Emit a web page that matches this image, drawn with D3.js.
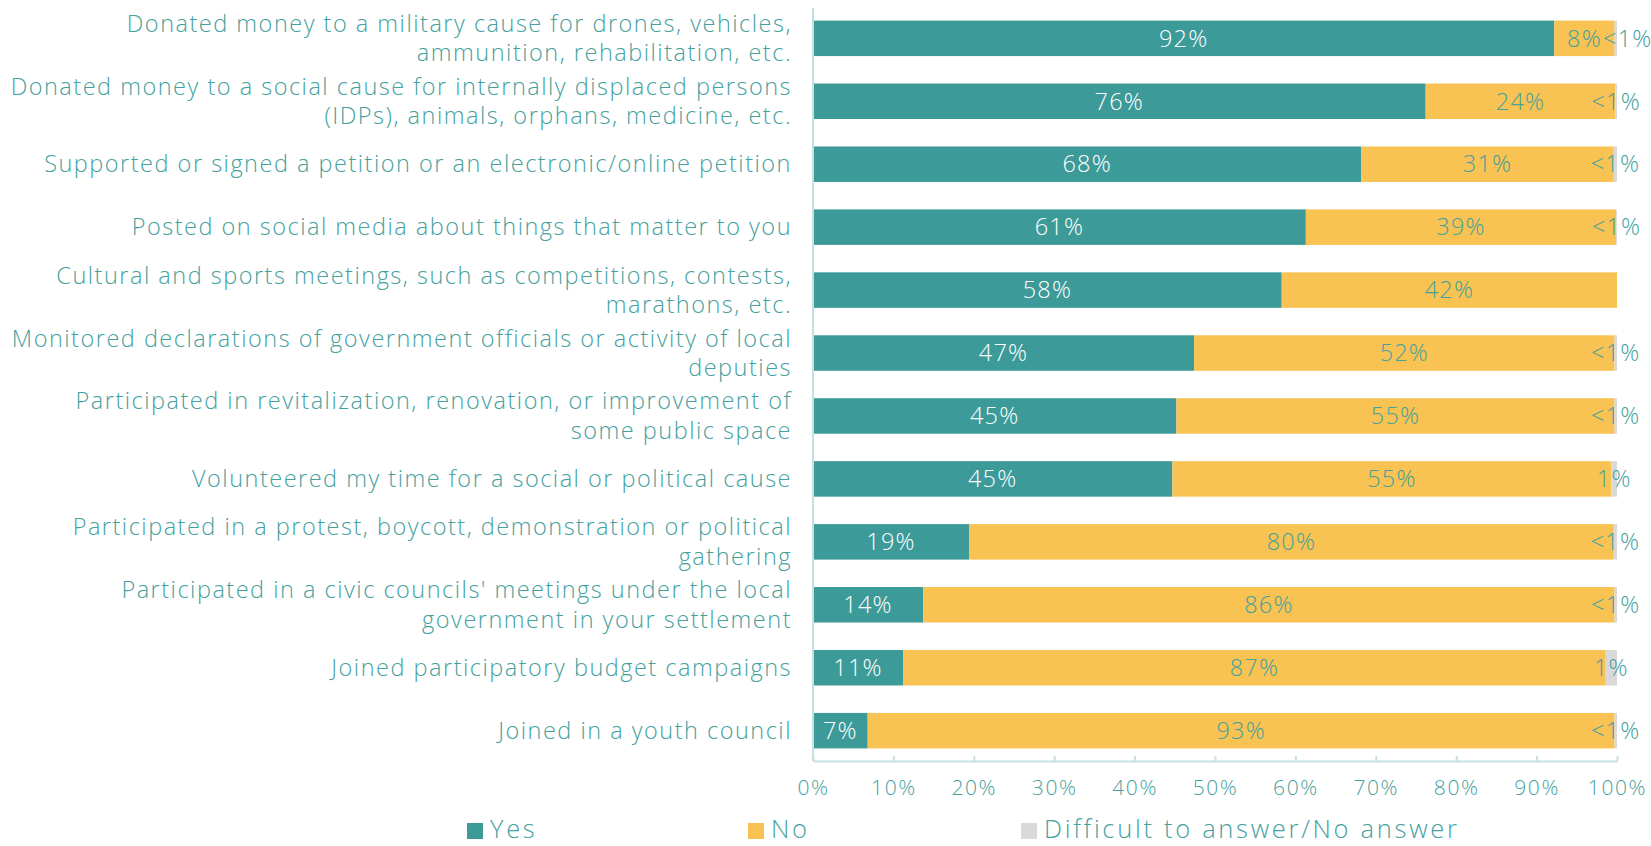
<!DOCTYPE html>
<html>
<head>
<meta charset="utf-8">
<script src="https://cdn.jsdelivr.net/npm/d3@7"></script>
<style>
  html, body { margin: 0; padding: 0; background: #ffffff; }
  svg { display: block; }
  text { font-family: "Open Sans", "Noto Sans", sans-serif; font-weight: 300; }
</style>
</head>
<body>
<svg id="chart" width="1651" height="846"></svg>
<script>
// Activities (one bar each), with wrapped label lines
const categories = [
  ["Donated money to a military cause for drones, vehicles,", "ammunition, rehabilitation, etc."],
  ["Donated money to a social cause for internally displaced persons", "(IDPs), animals, orphans, medicine, etc."],
  ["Supported or signed a petition or an electronic/online petition"],
  ["Posted on social media about things that matter to you"],
  ["Cultural and sports meetings, such as competitions, contests,", "marathons, etc."],
  ["Monitored declarations of government officials or activity of local", "deputies"],
  ["Participated in revitalization, renovation, or improvement of", "some public space"],
  ["Volunteered my time for a social or political cause"],
  ["Participated in a protest, boycott, demonstration or political", "gathering"],
  ["Participated in a civic councils' meetings under the local", "government in your settlement"],
  ["Joined participatory budget campaigns"],
  ["Joined in a youth council"]
];

// Shares of respondents, %
const yesValues  = [92.2, 76.2, 68.2, 61.3, 58.3, 47.4, 45.2, 44.7, 19.4, 13.7, 11.2, 6.8];
const noValues   = [ 7.5, 23.6, 31.4, 38.6, 41.7, 52.3, 54.5, 54.6, 80.2, 86.0, 87.4, 92.9];
const hardValues = [ 0.3,  0.2,  0.4,  0.1,  0.0,  0.3,  0.3,  0.7,  0.4,  0.3,  1.4,  0.3];

const seriesNames = ["Yes", "No", "Difficult to answer/No answer"];
const tickValues = [0, 10, 20, 30, 40, 50, 60, 70, 80, 90, 100];

const colors = { yes: "#3c9a98", no: "#f8c352", hard: "#d9d9d9" };
const textColor = "#45a19e";
const axisColor = "#c6e0e0";

const svg = d3.select("#chart");

const plot = { left: 813, right: 1617, top: 8, bottom: 761 };

const x = d3.scaleLinear().domain([0, 100]).range([plot.left, plot.right]);
const y = d3.scaleBand()
  .domain(d3.range(categories.length))
  .range([plot.top, plot.bottom])
  .paddingInner(0.436)
  .paddingOuter(0.2);

const rows = categories.map((c, i) => ({
  i, lines: c, yes: yesValues[i], no: noValues[i], hard: hardValues[i]
}));

const fmt = v => v < 0.5 ? "<1%" : Math.round(v) + "%";

// Category labels
const labelG = svg.append("g");
rows.forEach(r => {
  const cy = y(r.i) + y.bandwidth() / 2;
  const n = r.lines.length;
  const lh = 29.5;
  const t = labelG.append("text")
    .attr("text-anchor", "end")
    .attr("fill", textColor)
    .attr("font-size", 23.5)
    .attr("letter-spacing", 1.5);
  r.lines.forEach((ln, k) => {
    t.append("tspan")
      .attr("x", 792)
      .attr("y", cy + (k - (n - 1) / 2) * lh)
      .attr("dy", "0.35em")
      .text(ln);
  });
});

// Stacked bars
const barG = svg.append("g");
rows.forEach(r => {
  const y0 = y(r.i), h = y.bandwidth();
  const segs = [
    { key: "yes", a: 0, b: r.yes },
    { key: "no", a: r.yes, b: r.yes + r.no },
    { key: "hard", a: r.yes + r.no, b: r.yes + r.no + r.hard }
  ];
  segs.forEach(s => {
    if (s.b - s.a <= 0) return;
    barG.append("rect")
      .attr("x", x(s.a))
      .attr("y", y0)
      .attr("width", x(s.b) - x(s.a))
      .attr("height", h)
      .attr("fill", colors[s.key]);
  });
});

// Axes
const axisG = svg.append("g").attr("transform", `translate(0,${plot.bottom})`);
axisG.call(
  d3.axisBottom(x)
    .tickValues(tickValues)
    .tickFormat(d => d + "%")
    .tickSizeInner(-5)
    .tickSizeOuter(0)
    .tickPadding(19)
);
axisG.select(".domain").attr("stroke", axisColor).attr("stroke-width", 2);
axisG.selectAll(".tick line").attr("stroke", axisColor).attr("stroke-width", 2);
axisG.selectAll(".tick text")
  .attr("fill", textColor)
  .attr("font-size", 21)
  .attr("letter-spacing", 1.6)
  .attr("font-family", "\"Open Sans\", sans-serif")
  .attr("font-weight", 300);

svg.append("line")
  .attr("x1", plot.left).attr("x2", plot.left)
  .attr("y1", plot.top).attr("y2", plot.bottom)
  .attr("stroke", axisColor).attr("stroke-width", 2);

// Value labels
const valG = svg.append("g").attr("font-size", 23.5).attr("letter-spacing", 1.2);
rows.forEach(r => {
  const cy = y(r.i) + y.bandwidth() / 2;
  valG.append("text")
    .attr("x", x(r.yes / 2)).attr("y", cy).attr("dy", "0.35em")
    .attr("text-anchor", "middle").attr("fill", "#ffffff")
    .text(fmt(r.yes));
  valG.append("text")
    .attr("x", x(r.yes + r.no / 2)).attr("y", cy).attr("dy", "0.35em")
    .attr("text-anchor", "middle").attr("fill", textColor)
    .text(fmt(r.no));
  if (r.hard > 0) {
    // nudge right when the neighbouring segment is too narrow to hold both labels
    const nudge = (x(r.no) - x(0)) < 80 ? 12 : 0;
    valG.append("text")
      .attr("x", x(r.yes + r.no + r.hard / 2) + nudge).attr("y", cy).attr("dy", "0.35em")
      .attr("text-anchor", "middle").attr("fill", textColor)
      .text(fmt(r.hard));
  }
});

// Legend
const legendX = [467, 748, 1021];
const legendColors = [colors.yes, colors.no, colors.hard];
const legG = svg.append("g");
seriesNames.forEach((name, i) => {
  legG.append("rect")
    .attr("x", legendX[i]).attr("y", 823)
    .attr("width", 16).attr("height", 16)
    .attr("fill", legendColors[i]);
  legG.append("text")
    .attr("x", legendX[i] + 23).attr("y", 829).attr("dy", "0.35em")
    .attr("fill", textColor).attr("font-size", 25.5)
    .attr("letter-spacing", 2.7)
    .text(name);
});
</script>
</body>
</html>
